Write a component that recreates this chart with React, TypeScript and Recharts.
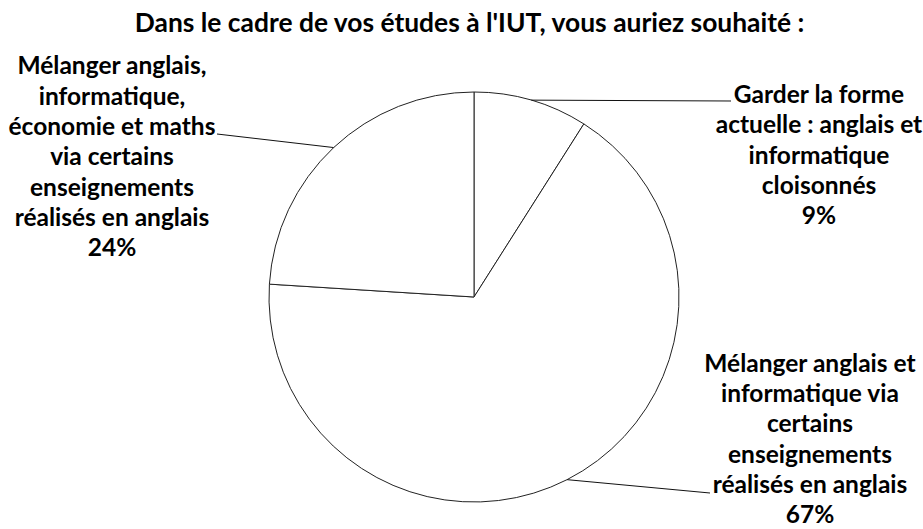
import { Cell, Pie, PieChart } from 'recharts'

const TITLE = "Dans le cadre de vos études à l'IUT, vous auriez souhaité :"

const CHOICES = [
  "Garder la forme actuelle : anglais et informatique cloisonnés",
  'Mélanger anglais et informatique via certains enseignements réalisés en anglais',
  'Mélanger anglais, informatique, économie et maths via certains enseignements réalisés en anglais',
]
const PERCENTS = [9, 67, 24]

// how each label wraps, as in the original chart
const LABEL_LINES = [
  ['Garder la forme', 'actuelle : anglais et', 'informatique', 'cloisonnés'],
  ['Mélanger anglais et', 'informatique via', 'certains', 'enseignements', 'réalisés en anglais'],
  ['Mélanger anglais,', 'informatique,', 'économie et maths', 'via certains', 'enseignements', 'réalisés en anglais'],
]

const data = CHOICES.map((name, i) => ({ name, value: PERCENTS[i] }))

const FONT = 'Lato, "Open Sans", sans-serif'
const LINE_H = 30.3
const RADIAN = Math.PI / 180

// leader end point, text centre and which text line the leader points at (its baseline)
const LABEL_LAYOUT = [
  { endX: 731, endY: 101, textX: 819, anchorLine: 0, baseline: 103 },
  { endX: 710, endY: 493, textX: 810, anchorLine: 4, baseline: 493 },
  { endX: 217, endY: 134, textX: 112, anchorLine: 2, baseline: 135 },
]

function renderLabel(props: any) {
  const { cx, cy, midAngle, outerRadius, index, percent } = props
  const lay = LABEL_LAYOUT[index]
  const sx = cx + outerRadius * Math.cos(-midAngle * RADIAN)
  const sy = cy + outerRadius * Math.sin(-midAngle * RADIAN)
  const lines = [...LABEL_LINES[index], `${Math.round(percent * 100)}%`]
  const firstY = lay.baseline - lay.anchorLine * LINE_H
  return (
    <g key={`lbl-${index}`}>
      <polyline points={`${sx},${sy} ${lay.endX},${lay.endY}`} stroke="#111" strokeWidth={1} fill="none" />
      <text textAnchor="middle" fontFamily={FONT} fontWeight={700} fontSize={24.5} fill="#000">
        {lines.map((l, k) => (
          <tspan key={k} x={lay.textX} y={firstY + k * LINE_H}>
            {l}
          </tspan>
        ))}
      </text>
    </g>
  )
}

export default function App() {
  return (
    <div style={{ position: 'absolute', left: 0, top: 0, width: 923, height: 529, background: '#fff' }}>
      <svg width={923} height={50} style={{ position: 'absolute', left: 0, top: 0 }}>
        <text x={469.5} y={32} textAnchor="middle" fontFamily={FONT} fontWeight={700} fontSize={26.4} fill="#000">
          {TITLE}
        </text>
      </svg>
      <PieChart width={923} height={529} margin={{ top: 0, right: 0, bottom: 0, left: 0 }}>
        <Pie
          data={data}
          dataKey="value"
          nameKey="name"
          cx={474}
          cy={297}
          outerRadius={205}
          startAngle={90}
          endAngle={-270}
          label={renderLabel}
          labelLine={false}
          isAnimationActive={false}
        >
          {data.map((d) => (
            <Cell key={d.name} fill="#fff" stroke="#222" strokeWidth={1} />
          ))}
        </Pie>
      </PieChart>
    </div>
  )
}
